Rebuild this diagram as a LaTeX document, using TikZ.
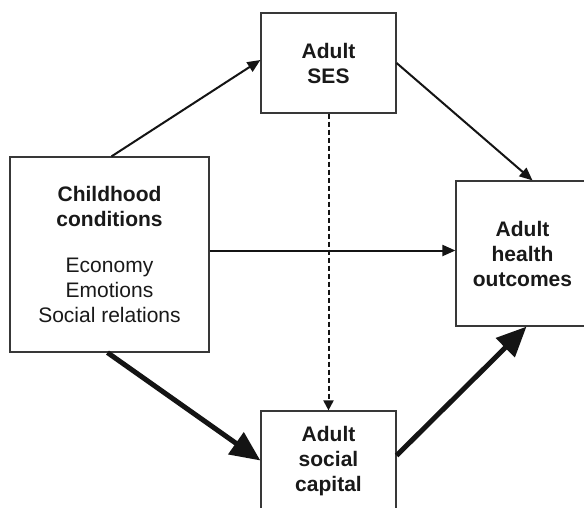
\documentclass[tikz,border=0pt]{standalone}
\usepackage{fontspec}
\setmainfont{Liberation Sans}
\usetikzlibrary{arrows.meta}
\begin{document}
\begin{tikzpicture}[x=1pt,y=-1pt,
  box/.style={draw=black!78, line width=1.2pt, fill=white, inner sep=0pt,
    align=center, font=\fontsize{21}{25}\selectfont, text=black!90},
  thinlink/.style={line width=2pt, draw=black!92,
    -{Triangle[length=13pt,width=11pt]}},
  heavylink/.style={line width=5pt, draw=black!92,
    -{Triangle[length=30pt,width=26pt]}},
  dashlink/.style={line width=2pt, draw=black!92, dash pattern=on 5pt off 3pt,
    -{Triangle[length=10pt,width=10pt]}},
]
\clip (0,0) rectangle (584,507);
\fill[white] (0,0) rectangle (584,507);

% boxes
\node[box, minimum width=135pt, minimum height=100pt] (ses) at (328.5,63)
  {\textbf{Adult}\\\textbf{SES}};
\node[box, minimum width=199pt, minimum height=195pt] (child) at (109.5,254.5)
  {\textbf{Childhood}\\\textbf{conditions}\\[21pt]Economy\\Emotions\\Social relations};
\node[box, minimum width=133pt, minimum height=145pt] (health) at (522.5,253.5)
  {\textbf{Adult}\\\textbf{health}\\\textbf{outcomes}};
\node[box, minimum width=135pt, minimum height=101pt] (soc) at (328.5,461.5)
  {\textbf{Adult}\\\textbf{social}\\\textbf{capital}};

% pathways
\draw[thinlink] ([xshift=2pt]child.north) -- ([yshift=3pt]ses.west);
\draw[thinlink] ([yshift=0pt]ses.east) -- ([xshift=10pt]health.north);
\draw[thinlink] ([yshift=4pt]child.east) -- ([yshift=4pt]child.east -| health.west);
\draw[dashlink] (ses.south) -- (soc.north);
\draw[heavylink] ([xshift=-2pt]child.south) -- ([yshift=1pt]soc.west);
\draw[heavylink] ([yshift=6pt]soc.east) -- ([xshift=4pt]health.south);
\end{tikzpicture}
\end{document}
